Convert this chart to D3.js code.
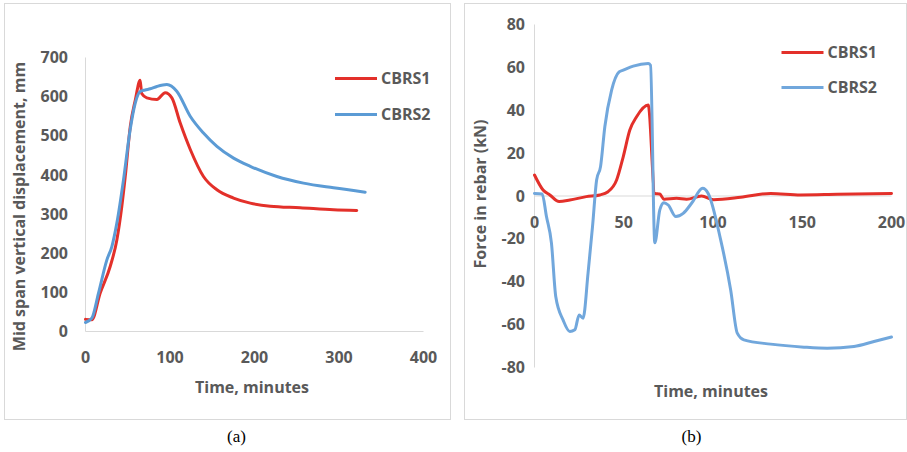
<!DOCTYPE html>
<html>
<head>
<meta charset="utf-8">
<script src="https://cdn.jsdelivr.net/npm/d3@7"></script>
<style>
  body { margin: 0; background: #fff; }
  text { font-family: "Open Sans", sans-serif; }
</style>
</head>
<body>
<svg id="chart" width="907" height="452"></svg>
<script>
// ---- panel (a): mid span vertical displacement ----
const dispTime1 = [0, 7.5, 17.4, 29.2, 37.1, 43, 47, 53, 59, 64.7, 66.5, 72.5, 84.5, 94.3, 102.2, 112, 124, 139.6, 155.5, 175.2, 195, 218.6, 254, 293.5, 321];
const dispCBRS1 = [31, 30, 98, 166, 234, 320, 395, 524, 592, 642, 608, 597, 593, 610, 597, 533, 465, 396, 362, 341, 328, 320, 316, 311, 309];
const dispTime2 = [0, 7.5, 15.4, 25.3, 31.2, 37.1, 45, 52.8, 58.8, 64.7, 70.6, 76.6, 84.5, 96.3, 108, 123.9, 139.6, 155.5, 175.2, 195, 226.5, 258, 293.5, 331];
const dispCBRS2 = [23, 34, 98, 183, 217, 277, 388, 515, 583, 613, 617, 620, 626, 631, 614, 550, 507, 473, 443, 422, 396, 379, 367, 356];
const dispXTicks = [0, 100, 200, 300, 400];
const dispYTicks = [0, 100, 200, 300, 400, 500, 600, 700];

// ---- panel (b): force in rebar ----
const forceTime1 = [0, 4.8, 8.6, 13.8, 19.8, 29, 36.6, 41.2, 46, 49.7, 53.4, 57.2, 63.7, 67.4, 70.2, 72.5, 79.6, 85.2, 93.6, 100.3, 115.5, 132.3, 149, 169.6, 200];
const forceCBRS1 = [9.8, 2.8, 0.5, -2.6, -1.9, -0.3, 0.5, 2, 7.5, 18.3, 30.8, 37, 42.4, 1.2, 0.9, -1.5, -1.1, -1.5, 0, -1.7, -0.6, 1.2, 0.5, 0.8, 1.2];
const forceTime2 = [0, 4.3, 6.7, 9.5, 11.9, 16, 19.8, 22.6, 25, 27.2, 30, 32.5, 34.8, 37, 39.4, 43.2, 47.4, 49.7, 55.3, 63.7, 65, 67.4, 70.2, 72.5, 74.9, 79.2, 83.3, 88, 94.2, 97.3, 104.3, 109.9, 113.6, 117.3, 132.3, 151, 164, 179, 190.2, 200];
const forceCBRS2 = [1.2, 0.9, -9.6, -22, -46.9, -57.8, -63.2, -62.4, -55.5, -57, -36, -14.3, 7.5, 13.7, 32.3, 49.4, 57.9, 58.7, 60.6, 61.8, 61, -21.8, -6.5, -3.1, -4.2, -9.6, -8.1, -3.4, 3.6, 1.2, -20.5, -43.8, -64, -67.1, -69.1, -70.5, -71, -70.2, -67.9, -65.8];
const forceXTicks = [0, 50, 100, 150, 200];
const forceYTicks = [-80, -60, -40, -20, 0, 20, 40, 60, 80];

const seriesNames = ["CBRS1", "CBRS2"];
const red = "#e3302a";
const textColor = "#595959";
const axisColor = "#d9d9d9";

const svg = d3.select("#chart");

function drawPanel(cfg) {
  // frame
  svg.append("rect")
    .attr("x", cfg.frame[0]).attr("y", cfg.frame[1])
    .attr("width", cfg.frame[2]).attr("height", cfg.frame[3])
    .attr("fill", "#fff").attr("stroke", axisColor).attr("stroke-width", 1);

  const x = d3.scaleLinear().domain(cfg.xDomain).range(cfg.xRange);
  const y = d3.scaleLinear().domain(cfg.yDomain).range(cfg.yRange);
  const g = svg.append("g");

  // axis lines
  g.append("line")
    .attr("x1", x(cfg.xDomain[0])).attr("x2", x(cfg.xDomain[0]))
    .attr("y1", y(cfg.yDomain[0])).attr("y2", y(cfg.yDomain[1]))
    .attr("stroke", axisColor);
  g.append("line")
    .attr("x1", x(cfg.xDomain[0])).attr("x2", x(cfg.xDomain[1]))
    .attr("y1", y(0)).attr("y2", y(0))
    .attr("stroke", axisColor);

  // tick labels
  g.selectAll(".ytick").data(cfg.yTicks).enter().append("text")
    .attr("x", cfg.yLabelX).attr("y", d => y(d)).attr("dy", "0.35em")
    .attr("text-anchor", "end").attr("font-size", 16).attr("font-weight", 700)
    .attr("fill", textColor).text(d => d);
  g.selectAll(".xtick").data(cfg.xTicks).enter().append("text")
    .attr("x", d => x(d)).attr("y", cfg.xLabelY).attr("dy", "0.35em")
    .attr("text-anchor", "middle").attr("font-size", 16).attr("font-weight", 700)
    .attr("fill", textColor).text(d => d);

  // axis titles
  g.append("text")
    .attr("x", cfg.xTitle[0]).attr("y", cfg.xTitle[1]).attr("dy", "0.35em")
    .attr("text-anchor", "middle").attr("font-size", 16).attr("font-weight", 700)
    .attr("fill", textColor).text("Time, minutes");
  g.append("text")
    .attr("transform", "translate(" + cfg.yTitle[0] + "," + cfg.yTitle[1] + ") rotate(-90)")
    .attr("dy", "0.35em")
    .attr("text-anchor", "middle").attr("font-size", 16).attr("font-weight", 700)
    .attr("fill", textColor).text(cfg.yTitleText);

  // lines
  const line = d3.line()
    .x(d => x(d[0])).y(d => y(d[1]))
    .curve(d3.curveMonotoneX);
  const colors = [red, cfg.blue];
  cfg.series.forEach((s, i) => {
    const pts = s.t.map((t, k) => [t, s.v[k]]);
    g.append("path").datum(pts)
      .attr("d", line)
      .attr("fill", "none").attr("stroke", colors[i])
      .attr("stroke-width", 3).attr("stroke-linejoin", "round").attr("stroke-linecap", "round");
  });

  // legend
  seriesNames.forEach((name, i) => {
    const ly = cfg.legend[1] + i * cfg.legendGap;
    g.append("line")
      .attr("x1", cfg.legend[0]).attr("x2", cfg.legend[0] + 42)
      .attr("y1", ly).attr("y2", ly)
      .attr("stroke", colors[i]).attr("stroke-width", 3);
    g.append("text")
      .attr("x", cfg.legend[0] + 46).attr("y", ly).attr("dy", "0.35em")
      .attr("font-size", 16).attr("font-weight", 700)
      .attr("fill", textColor).text(name);
  });

  // caption
  svg.append("text")
    .attr("x", cfg.caption[0]).attr("y", cfg.caption[1]).attr("dy", "0.35em")
    .attr("text-anchor", "middle")
    .style("font-family", "'Liberation Serif', 'Times New Roman', serif")
    .attr("font-size", 17).attr("fill", "#000").text(cfg.captionText);
}

drawPanel({
  frame: [4.5, 3.5, 446, 416],
  xDomain: [0, 400], xRange: [85.5, 423.5],
  yDomain: [0, 700], yRange: [331.5, 57.5],
  xTicks: dispXTicks, yTicks: dispYTicks,
  yLabelX: 68, xLabelY: 357,
  xTitle: [252, 387], yTitle: [19.5, 206.5],
  yTitleText: "Mid span vertical displacement, mm",
  blue: "#5b9bd5",
  series: [{ t: dispTime1, v: dispCBRS1 }, { t: dispTime2, v: dispCBRS2 }],
  legend: [335, 78.5], legendGap: 36,
  caption: [236.5, 436], captionText: "(a)"
});

drawPanel({
  frame: [464.5, 3.5, 442, 416],
  xDomain: [0, 200], xRange: [534.5, 891.5],
  yDomain: [-80, 80], yRange: [367.5, 24.5],
  xTicks: forceXTicks, yTicks: forceYTicks,
  yLabelX: 525, xLabelY: 222,
  xTitle: [711, 391], yTitle: [480.5, 194],
  yTitleText: "Force in rebar (kN)",
  blue: "#71a7dc",
  series: [{ t: forceTime1, v: forceCBRS1 }, { t: forceTime2, v: forceCBRS2 }],
  legend: [781.5, 52.5], legendGap: 35,
  caption: [691.5, 436], captionText: "(b)"
});
</script>
</body>
</html>
